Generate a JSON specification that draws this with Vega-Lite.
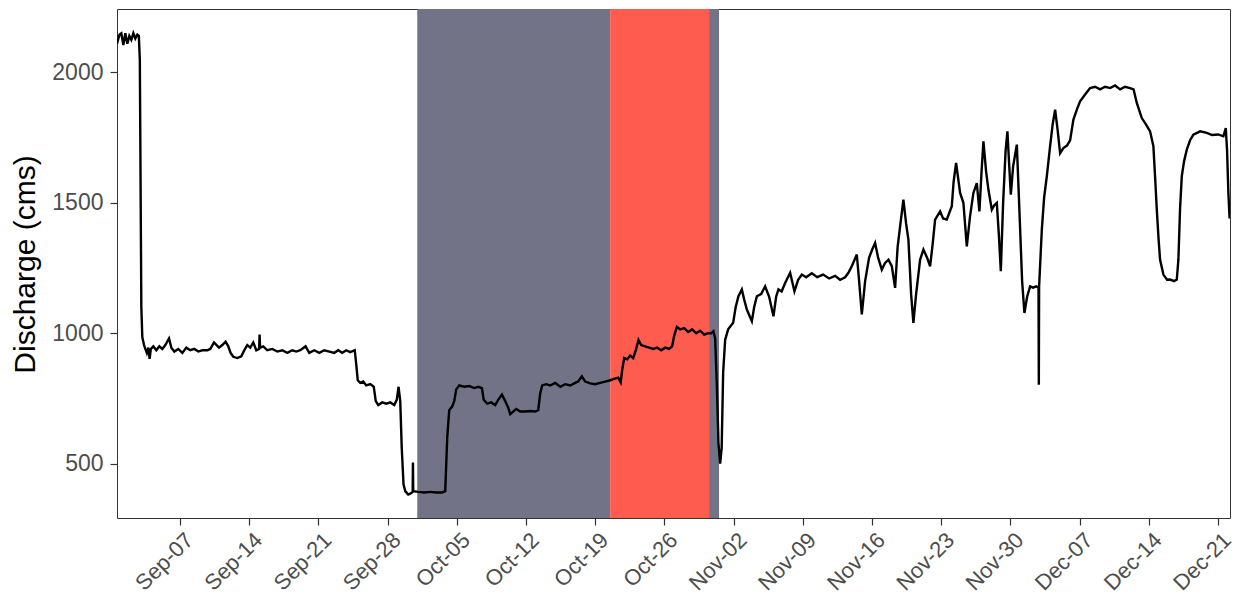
{
  "$schema": "https://vega.github.io/schema/vega-lite/v6.json",
  "autosize": {"type": "none"},
  "width": 1113,
  "height": 509,
  "padding": {"left": 117, "top": 9, "right": 5, "bottom": 80},
  "background": "white",
  "config": {
    "view": {"stroke": "#333333", "strokeWidth": 1},
    "font": "Liberation Sans",
    "axis": {"grid": false, "domain": false, "tickColor": "#333333", "tickSize": 7, "tickWidth": 1.2, "labelColor": "#4D4D4D", "labelFont": "Liberation Sans", "titleFont": "Liberation Sans", "titleFontWeight": "normal", "titleColor": "#000000"}
  },
  "datasets": {
    "bands": [
      {"start": "2020-10-01T00:00", "end": "2020-10-20T12:26", "kind": "a"},
      {"start": "2020-10-20T12:26", "end": "2020-10-30T12:30", "kind": "b"},
      {"start": "2020-10-30T12:30", "end": "2020-10-31T12:40", "kind": "a"}
    ],
    "flow": [
      {"t":"2020-08-31T15:00","q":2110},{"t":"2020-08-31T21:00","q":2145},{"t":"2020-09-01T01:30","q":2150},{"t":"2020-09-01T06:23","q":2105},{"t":"2020-09-01T11:14","q":2150},{"t":"2020-09-01T16:05","q":2110},{"t":"2020-09-01T20:56","q":2140},{"t":"2020-09-02T01:48","q":2125},{"t":"2020-09-02T06:39","q":2150},{"t":"2020-09-02T11:31","q":2130},{"t":"2020-09-02T16:22","q":2145},{"t":"2020-09-02T20:00","q":2140},{"t":"2020-09-02T22:25","q":2050},{"t":"2020-09-03T02:04","q":1100},{"t":"2020-09-03T04:29","q":985},
      {"t":"2020-09-03T08:37","q":955},{"t":"2020-09-03T11:47","q":940},{"t":"2020-09-03T15:25","q":925},{"t":"2020-09-03T19:03","q":945},{"t":"2020-09-03T22:13","q":902},{"t":"2020-09-04T01:08","q":940},{"t":"2020-09-04T07:12","q":950},{"t":"2020-09-04T14:28","q":935},{"t":"2020-09-04T21:46","q":950},{"t":"2020-09-05T05:02","q":940},{"t":"2020-09-05T12:19","q":955},{"t":"2020-09-05T21:18","q":980},{"t":"2020-09-06T02:53","q":945},{"t":"2020-09-06T10:10","q":930},{"t":"2020-09-06T19:52","q":940},
      {"t":"2020-09-07T05:35","q":925},{"t":"2020-09-07T15:17","q":945},{"t":"2020-09-08T01:00","q":935},{"t":"2020-09-08T10:42","q":940},{"t":"2020-09-08T20:25","q":930},{"t":"2020-09-09T06:07","q":935},{"t":"2020-09-09T18:15","q":935},{"t":"2020-09-10T01:32","q":940},{"t":"2020-09-10T10:31","q":965},{"t":"2020-09-10T22:39","q":945},{"t":"2020-09-11T06:40","q":955},{"t":"2020-09-11T14:41","q":968},{"t":"2020-09-11T21:14","q":950},{"t":"2020-09-12T02:49","q":925},{"t":"2020-09-12T09:22","q":910},{"t":"2020-09-12T19:05","q":905},{"t":"2020-09-13T04:47","q":912},{"t":"2020-09-13T12:04","q":935},{"t":"2020-09-13T19:21","q":955},{"t":"2020-09-14T02:38","q":945},{"t":"2020-09-14T09:55","q":965},{"t":"2020-09-14T17:11","q":935},
      {"t":"2020-09-15T00:00","q":940},{"t":"2020-09-15T01:12","q":995},{"t":"2020-09-15T02:25","q":945},{"t":"2020-09-15T10:11","q":950},{"t":"2020-09-15T19:53","q":935},{"t":"2020-09-16T08:02","q":940},{"t":"2020-09-16T20:10","q":930},{"t":"2020-09-17T08:18","q":935},{"t":"2020-09-17T20:27","q":925},{"t":"2020-09-18T08:34","q":935},{"t":"2020-09-18T18:17","q":930},{"t":"2020-09-19T03:59","q":935},{"t":"2020-09-19T16:51","q":950},{"t":"2020-09-20T01:50","q":925},{"t":"2020-09-20T13:58","q":935},{"t":"2020-09-21T02:07","q":925},{"t":"2020-09-21T14:15","q":935},{"t":"2020-09-22T02:23","q":930},{"t":"2020-09-22T14:31","q":925},{"t":"2020-09-23T00:13","q":935},{"t":"2020-09-23T09:56","q":925},{"t":"2020-09-23T19:38","q":935},{"t":"2020-09-24T05:21","q":928},{"t":"2020-09-24T16:16","q":935},
      {"t":"2020-09-24T19:55","q":880},{"t":"2020-09-24T23:33","q":820},{"t":"2020-09-25T05:37","q":810},{"t":"2020-09-25T12:55","q":815},{"t":"2020-09-25T20:11","q":800},{"t":"2020-09-26T05:54","q":805},{"t":"2020-09-26T14:24","q":795},{"t":"2020-09-26T19:15","q":740},{"t":"2020-09-27T01:19","q":725},{"t":"2020-09-27T11:01","q":735},{"t":"2020-09-27T20:44","q":730},{"t":"2020-09-28T06:26","q":735},{"t":"2020-09-28T16:09","q":725},{"t":"2020-09-28T22:13","q":745},{"t":"2020-09-29T02:36","q":795},{"t":"2020-09-29T06:42","q":740},{"t":"2020-09-29T10:20","q":560},{"t":"2020-09-29T14:43","q":420},{"t":"2020-09-29T18:50","q":395},{"t":"2020-09-30T02:07","q":382},{"t":"2020-09-30T06:59","q":385},{"t":"2020-09-30T12:49","q":392},{"t":"2020-09-30T13:32","q":505},{"t":"2020-09-30T14:15","q":395},
      {"t":"2020-10-01T02:24","q":392},{"t":"2020-10-01T16:58","q":390},{"t":"2020-10-02T07:31","q":392},{"t":"2020-10-02T22:05","q":390},{"t":"2020-10-03T12:39","q":390},{"t":"2020-10-03T19:55","q":395},{"t":"2020-10-04T00:46","q":600},{"t":"2020-10-04T05:38","q":705},{"t":"2020-10-04T12:55","q":720},{"t":"2020-10-04T17:46","q":740},{"t":"2020-10-04T22:38","q":785},{"t":"2020-10-05T05:54","q":800},{"t":"2020-10-05T18:03","q":795},{"t":"2020-10-06T06:11","q":798},{"t":"2020-10-06T18:19","q":790},{"t":"2020-10-07T04:02","q":795},{"t":"2020-10-07T13:00","q":790},{"t":"2020-10-07T17:22","q":745},{"t":"2020-10-08T01:52","q":730},{"t":"2020-10-08T11:35","q":735},{"t":"2020-10-08T21:17","q":725},{"t":"2020-10-09T04:35","q":745},{"t":"2020-10-09T13:33","q":765},{"t":"2020-10-09T21:34","q":740},{"t":"2020-10-10T04:51","q":715},{"t":"2020-10-10T09:42","q":690},{"t":"2020-10-10T16:59","q":700},{"t":"2020-10-11T00:16","q":710},{"t":"2020-10-11T09:59","q":700},{"t":"2020-10-11T22:06","q":700},{"t":"2020-10-12T10:15","q":702},{"t":"2020-10-12T22:23","q":700},{"t":"2020-10-13T05:40","q":705},{"t":"2020-10-13T10:31","q":770},{"t":"2020-10-13T15:23","q":800},
      {"t":"2020-10-14T01:06","q":805},{"t":"2020-10-14T10:48","q":800},{"t":"2020-10-14T22:57","q":810},{"t":"2020-10-15T11:04","q":795},{"t":"2020-10-15T23:12","q":805},{"t":"2020-10-16T11:21","q":800},{"t":"2020-10-16T23:28","q":810},{"t":"2020-10-17T06:46","q":815},{"t":"2020-10-17T15:45","q":835},{"t":"2020-10-17T23:46","q":815},{"t":"2020-10-18T11:53","q":808},{"t":"2020-10-19T00:01","q":805},{"t":"2020-10-19T12:10","q":810},{"t":"2020-10-20T00:17","q":815},{"t":"2020-10-20T12:26","q":820},{"t":"2020-10-20T22:08","q":825},{"t":"2020-10-21T07:51","q":830},{"t":"2020-10-21T13:55","q":812},{"t":"2020-10-21T17:33","q":860},{"t":"2020-10-21T22:25","q":905},{"t":"2020-10-22T05:41","q":900},{"t":"2020-10-22T12:58","q":915},{"t":"2020-10-22T20:15","q":905},{"t":"2020-10-23T03:32","q":940},{"t":"2020-10-23T09:07","q":975},{"t":"2020-10-23T15:40","q":955},{"t":"2020-10-24T01:22","q":950},{"t":"2020-10-24T11:05","q":945},{"t":"2020-10-24T20:47","q":940},{"t":"2020-10-25T06:30","q":945},{"t":"2020-10-25T16:12","q":935},{"t":"2020-10-26T01:55","q":945},{"t":"2020-10-26T11:37","q":940},{"t":"2020-10-26T18:53","q":950},{"t":"2020-10-26T23:45","q":990},
      {"t":"2020-10-27T06:19","q":1025},{"t":"2020-10-27T14:20","q":1015},{"t":"2020-10-28T00:01","q":1020},{"t":"2020-10-28T09:45","q":1005},{"t":"2020-10-28T19:26","q":1015},{"t":"2020-10-29T05:10","q":1000},{"t":"2020-10-29T14:51","q":1010},{"t":"2020-10-30T00:35","q":995},{"t":"2020-10-30T10:16","q":1000},{"t":"2020-10-30T17:33","q":1000},{"t":"2020-10-30T23:08","q":1008},{"t":"2020-10-31T03:16","q":980},{"t":"2020-10-31T07:24","q":800},{"t":"2020-10-31T11:17","q":580},{"t":"2020-10-31T15:24","q":500},{"t":"2020-10-31T19:03","q":560},{"t":"2020-10-31T22:41","q":850},
      {"t":"2020-11-01T03:33","q":975},{"t":"2020-11-01T10:49","q":1015},{"t":"2020-11-01T22:58","q":1040},{"t":"2020-11-02T05:02","q":1100},{"t":"2020-11-02T11:50","q":1142},{"t":"2020-11-02T20:05","q":1168},{"t":"2020-11-03T01:40","q":1130},{"t":"2020-11-03T08:13","q":1091},{"t":"2020-11-03T20:21","q":1046},{"t":"2020-11-04T01:56","q":1100},{"t":"2020-11-04T08:30","q":1142},{"t":"2020-11-04T18:56","q":1150},{"t":"2020-11-05T04:38","q":1180},{"t":"2020-11-05T14:21","q":1140},{"t":"2020-11-06T00:47","q":1065},{"t":"2020-11-06T07:20","q":1140},{"t":"2020-11-06T12:55","q":1168},{"t":"2020-11-06T20:41","q":1160},{"t":"2020-11-07T05:11","q":1193},{"t":"2020-11-07T17:19","q":1232},{"t":"2020-11-08T03:46","q":1161},{"t":"2020-11-08T12:45","q":1205},{"t":"2020-11-08T21:43","q":1225},{"t":"2020-11-09T08:10","q":1215},{"t":"2020-11-09T21:59","q":1230},{"t":"2020-11-10T10:51","q":1215},{"t":"2020-11-11T01:25","q":1225},{"t":"2020-11-11T15:59","q":1210},{"t":"2020-11-12T06:33","q":1220},{"t":"2020-11-12T18:40","q":1205},{"t":"2020-11-13T06:49","q":1215},{"t":"2020-11-13T14:50","q":1232},{"t":"2020-11-13T23:48","q":1260},
      {"t":"2020-11-14T11:13","q":1302},{"t":"2020-11-14T16:48","q":1200},{"t":"2020-11-14T23:21","q":1072},{"t":"2020-11-15T07:22","q":1200},{"t":"2020-11-15T17:04","q":1290},{"t":"2020-11-16T00:22","q":1320},{"t":"2020-11-16T07:38","q":1346},{"t":"2020-11-16T14:56","q":1290},{"t":"2020-11-16T23:54","q":1244},{"t":"2020-11-17T07:55","q":1270},{"t":"2020-11-17T15:56","q":1282},{"t":"2020-11-18T00:12","q":1257},{"t":"2020-11-18T08:11","q":1174},{"t":"2020-11-18T14:16","q":1330},{"t":"2020-11-18T20:20","q":1410},{"t":"2020-11-19T04:21","q":1512},{"t":"2020-11-19T10:54","q":1420},{"t":"2020-11-19T16:29","q":1359},{"t":"2020-11-19T23:02","q":1150},{"t":"2020-11-20T04:36","q":1040},{"t":"2020-11-20T11:10","q":1150},{"t":"2020-11-20T20:53","q":1282},{"t":"2020-11-21T04:54","q":1321},{"t":"2020-11-21T13:52","q":1290},{"t":"2020-11-21T21:10","q":1257},{"t":"2020-11-22T03:13","q":1340},{"t":"2020-11-22T09:17","q":1436},{"t":"2020-11-22T21:26","q":1467},{"t":"2020-11-23T04:42","q":1440},{"t":"2020-11-23T13:42","q":1436},
      {"t":"2020-11-24T01:49","q":1487},{"t":"2020-11-24T06:12","q":1580},{"t":"2020-11-24T12:16","q":1653},{"t":"2020-11-24T21:59","q":1538},{"t":"2020-11-25T06:00","q":1500},{"t":"2020-11-25T14:15","q":1333},{"t":"2020-11-25T22:16","q":1450},{"t":"2020-11-26T06:17","q":1538},{"t":"2020-11-26T14:32","q":1576},{"t":"2020-11-26T20:51","q":1467},{"t":"2020-11-27T02:05","q":1620},{"t":"2020-11-27T06:36","q":1736},{"t":"2020-11-27T13:09","q":1620},{"t":"2020-11-27T18:43","q":1551},{"t":"2020-11-28T02:58","q":1474},{"t":"2020-11-28T08:34","q":1490},{"t":"2020-11-28T15:07","q":1500},{"t":"2020-11-28T19:59","q":1380},{"t":"2020-11-29T00:50","q":1238},{"t":"2020-11-29T06:25","q":1500},{"t":"2020-11-29T12:29","q":1700},{"t":"2020-11-29T16:52","q":1774},{"t":"2020-11-29T21:00","q":1650},{"t":"2020-11-30T01:07","q":1531},{"t":"2020-11-30T06:43","q":1640},{"t":"2020-11-30T15:42","q":1723},{"t":"2020-11-30T21:17","q":1500},
      {"t":"2020-12-01T04:34","q":1200},{"t":"2020-12-01T10:09","q":1078},{"t":"2020-12-01T16:42","q":1140},{"t":"2020-12-01T23:59","q":1180},{"t":"2020-12-02T07:16","q":1175},{"t":"2020-12-02T14:33","q":1180},{"t":"2020-12-02T20:22","q":1175},{"t":"2020-12-02T21:06","q":803},{"t":"2020-12-02T21:49","q":1180},{"t":"2020-12-03T04:23","q":1397},{"t":"2020-12-03T09:58","q":1520},{"t":"2020-12-03T16:31","q":1602},{"t":"2020-12-04T00:32","q":1717},{"t":"2020-12-04T06:36","q":1800},{"t":"2020-12-04T12:40","q":1857},{"t":"2020-12-04T18:44","q":1780},{"t":"2020-12-05T00:49","q":1690},{"t":"2020-12-05T08:49","q":1710},{"t":"2020-12-05T17:48","q":1720},{"t":"2020-12-06T01:05","q":1740},{"t":"2020-12-06T09:06","q":1819},{"t":"2020-12-06T18:04","q":1860},{"t":"2020-12-07T01:22","q":1889},{"t":"2020-12-07T13:29","q":1915},{"t":"2020-12-08T01:38","q":1940},{"t":"2020-12-08T13:46","q":1945},{"t":"2020-12-09T01:54","q":1935},{"t":"2020-12-09T14:02","q":1945},{"t":"2020-12-10T02:11","q":1940},{"t":"2020-12-10T14:18","q":1950},{"t":"2020-12-11T02:27","q":1935},{"t":"2020-12-11T14:36","q":1945},{"t":"2020-12-12T02:43","q":1940},{"t":"2020-12-12T11:13","q":1935},{"t":"2020-12-12T18:59","q":1883},{"t":"2020-12-13T07:08","q":1825},{"t":"2020-12-13T17:33","q":1800},{"t":"2020-12-14T03:16","q":1774},{"t":"2020-12-14T11:17","q":1717},{"t":"2020-12-14T15:24","q":1600},{"t":"2020-12-14T19:32","q":1474},{"t":"2020-12-14T23:54","q":1360},
      {"t":"2020-12-15T03:33","q":1282},{"t":"2020-12-15T11:34","q":1225},{"t":"2020-12-15T20:33","q":1205},{"t":"2020-12-16T03:49","q":1206},{"t":"2020-12-16T13:32","q":1200},{"t":"2020-12-16T20:05","q":1206},{"t":"2020-12-16T23:59","q":1282},{"t":"2020-12-17T04:06","q":1480},{"t":"2020-12-17T08:14","q":1602},{"t":"2020-12-17T13:49","q":1660},{"t":"2020-12-17T20:23","q":1704},{"t":"2020-12-18T04:24","q":1740},{"t":"2020-12-18T12:23","q":1761},{"t":"2020-12-19T04:39","q":1774},{"t":"2020-12-19T20:54","q":1768},{"t":"2020-12-20T09:46","q":1760},{"t":"2020-12-21T00:20","q":1762},{"t":"2020-12-21T13:12","q":1755},{"t":"2020-12-21T19:02","q":1787},{"t":"2020-12-21T22:11","q":1700},{"t":"2020-12-22T01:21","q":1538},{"t":"2020-12-22T04:15","q":1440}
    ]
  },
  "layer": [
    {
      "data": {"name": "bands"},
      "mark": {"type": "rect"},
      "encoding": {
        "x": {"field": "start", "type": "temporal"},
        "x2": {"field": "end"},
        "color": {"field": "kind", "type": "nominal", "scale": {"domain": ["a", "b"], "range": ["#737387", "#FF5C50"]}, "legend": null}
      }
    },
    {
      "data": {"name": "flow"},
      "mark": {"type": "line", "color": "#000000", "strokeWidth": 2.4, "clip": true},
      "encoding": {
        "x": {
          "field": "t", "type": "temporal",
          "scale": {"domain": [{"year": 2020, "month": 8, "date": 31, "hours": 15}, {"year": 2020, "month": 12, "date": 22, "hours": 5, "minutes": 17}], "nice": false},
          "axis": {
            "title": null, "format": "%b-%d", "labelAngle": -45, "labelAlign": "right", "labelBaseline": "top", "labelFontSize": 22, "labelPadding": 4, "labelOffset": 2, "labelOverlap": false,
            "values": [
              {"year": 2020, "month": 9, "date": 7}, {"year": 2020, "month": 9, "date": 14}, {"year": 2020, "month": 9, "date": 21}, {"year": 2020, "month": 9, "date": 28},
              {"year": 2020, "month": 10, "date": 5}, {"year": 2020, "month": 10, "date": 12}, {"year": 2020, "month": 10, "date": 19}, {"year": 2020, "month": 10, "date": 26},
              {"year": 2020, "month": 11, "date": 2}, {"year": 2020, "month": 11, "date": 9}, {"year": 2020, "month": 11, "date": 16}, {"year": 2020, "month": 11, "date": 23},
              {"year": 2020, "month": 11, "date": 30}, {"year": 2020, "month": 12, "date": 7}, {"year": 2020, "month": 12, "date": 14}, {"year": 2020, "month": 12, "date": 21}
            ]
          }
        },
        "y": {
          "field": "q", "type": "quantitative",
          "scale": {"domain": [292, 2243], "nice": false, "zero": false},
          "axis": {"title": "Discharge (cms)", "format": "d", "values": [500, 1000, 1500, 2000], "labelFontSize": 23, "labelPadding": 7, "titleFontSize": 30, "titleX": -92, "titleY": 255, "titleAngle": -90, "titleAlign": "center", "titleBaseline": "middle"}
        }
      }
    }
  ]
}
